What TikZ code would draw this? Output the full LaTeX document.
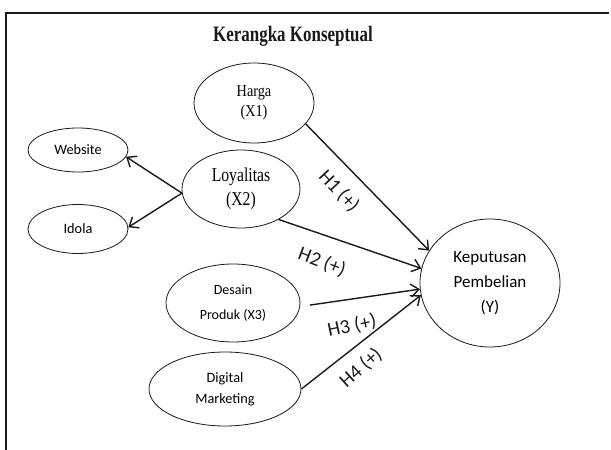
\documentclass[tikz,border=0pt]{standalone}
\usepackage{fontspec}
\setmainfont{Liberation Serif}
\newfontfamily\calib{Carlito}
\usetikzlibrary{arrows.meta,shapes.geometric}
\newcommand{\cnd}[2]{\scalebox{#1}[1]{#2}}
\begin{document}
\begin{tikzpicture}[x=1pt,y=-1pt,
  ell/.style={ellipse,draw=black!90,line width=0.8pt,inner sep=0pt,align=center},
  arr/.style={draw=black!90,line width=1.4pt,-{Straight Barb[length=8pt,width=13pt,line width=1.4pt]}},
  lab/.style={font=\calib\fontsize{20}{20}\selectfont,inner sep=0pt,text=black!90}]
\useasboundingbox (0,0) rectangle (611,450);
\draw[line width=2.2pt,black!90] (6,450) -- (6,13) -- (609,13);
\node[font=\bfseries\fontsize{22}{22}\selectfont,text=black!90] (title) at (293,36) {\cnd{0.77}{Kerangka Konseptual}};
\node[ell,minimum width=120pt,minimum height=80pt,font=\fontsize{16.6}{20}\selectfont] (harga) at (254,103) {\cnd{.86}{Harga}\\\cnd{.86}{(X1)}};
\node[ell,minimum width=118pt,minimum height=78pt,font=\fontsize{19.6}{24}\selectfont] (loy) at (241,189) {\cnd{.8}{Loyalitas}\\\cnd{.8}{(X2)}};
\node[ell,minimum width=100pt,minimum height=44pt,font=\calib\fontsize{14.3}{17}\selectfont] (web) at (78,150) {Website};
\node[ell,minimum width=100pt,minimum height=49pt,font=\calib\fontsize{14.3}{17}\selectfont] (idola) at (78,229) {Idola};
\node[ell,minimum width=134pt,minimum height=78pt,font=\calib\fontsize{14}{25}\selectfont] (des) at (233,303) {Desain\\Produk (X3)};
\node[ell,minimum width=152pt,minimum height=74pt,font=\calib\fontsize{14.3}{21}\selectfont] (dig) at (225,389) {Digital\\Marketing};
\node[ell,minimum width=140pt,minimum height=128pt,font=\calib\fontsize{17}{25}\selectfont] (kep) at (490,283) {Keputusan\\Pembelian\\(Y)};
\draw[arr] (harga.-22) -- (kep.152);
\draw[arr] (loy.-39) -- (kep.168);
\draw[arr,shorten <=10pt] (des.-3) -- (kep.185);
\draw[arr] (dig.east) -- (kep.190);
\draw[arr] (loy.184) -- (web.-8);
\draw[arr] (loy.184) -- (idola.2);
\node[lab,rotate=-47] (h1) at (339,191) {H1 (+)};
\node[lab,rotate=-21] (h2) at (322,262) {H2 (+)};
\node[lab,rotate=12] (h3) at (352,326) {H3 (+)};
\node[lab,rotate=42] (h4) at (361,368) {H4 (+)};
\end{tikzpicture}
\end{document}
